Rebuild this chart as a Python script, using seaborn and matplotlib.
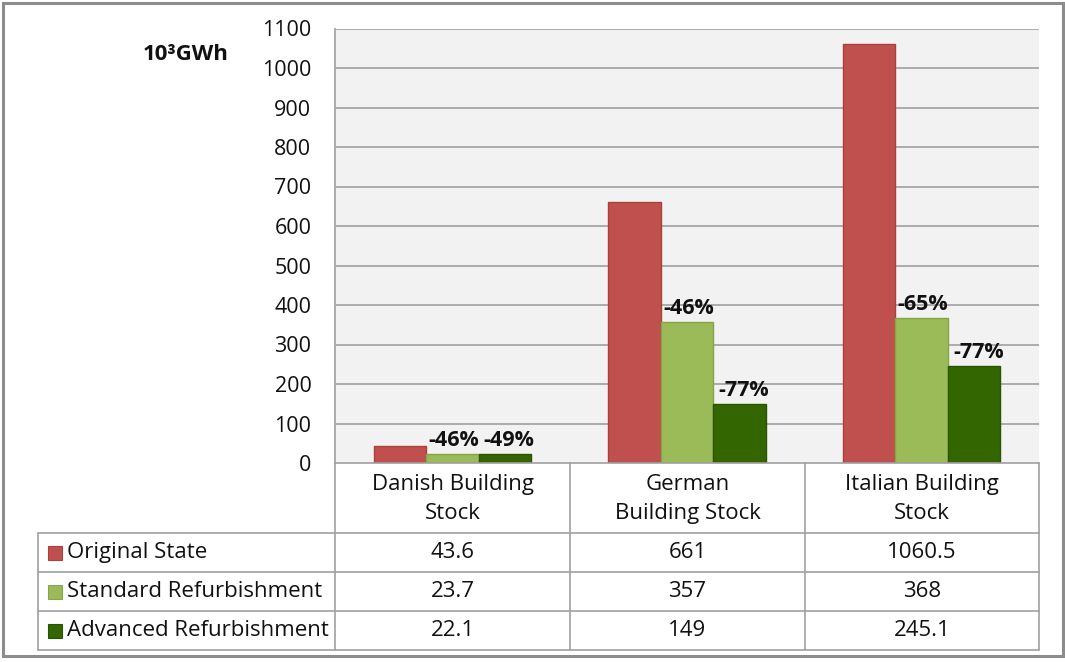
import matplotlib
matplotlib.use("Agg")
import matplotlib.pyplot as plt
from matplotlib.lines import Line2D
from matplotlib.patches import Rectangle
import seaborn as sns
import pandas as pd

categories = ["Danish Building\nStock", "German\nBuilding Stock", "Italian Building\nStock"]
series = ["Original State", "Standard Refurbishment", "Advanced Refurbishment"]
original = [43.6, 661, 1060.5]
standard = [23.7, 357, 368]
advanced = [22.1, 149, 245.1]
table_text = [["43.6", "661", "1060.5"], ["23.7", "357", "368"], ["22.1", "149", "245.1"]]
pct_standard = ["-46%", "-46%", "-65%"]
pct_advanced = ["-49%", "-77%", "-77%"]
colors = ["#C0504D", "#9BBB59", "#336600"]
edge_colors = ["#A8403D", "#86A548", "#2A5500"]
yticks = list(range(0, 1101, 100))

sns.set_theme(style="white")
plt.rcParams["font.family"] = ["Open Sans", "DejaVu Sans"]

W, H = 1065, 662
fig = plt.figure(figsize=(W / 100, H / 100), dpi=100)

def fx(px):
    return px / W

def fy(py):
    return 1 - py / H

L, R, T, B = 335, 1039, 28.5, 463
ax = fig.add_axes([fx(L), fy(B), fx(R) - fx(L), fy(T) - fy(B)])
ax.set_facecolor("#F2F2F2")

rows = []
for s, vals in zip(series, [original, standard, advanced]):
    for c, v in zip(categories, vals):
        rows.append({"cat": c, "series": s, "value": v})
df = pd.DataFrame(rows)

sns.barplot(data=df, x="cat", y="value", hue="series", order=categories,
            hue_order=series, palette=colors, width=0.67, ax=ax,
            saturation=1, legend=False, errorbar=None, zorder=3)
for cont, ec in zip(ax.containers, edge_colors):
    for bar in cont:
        bar.set_edgecolor(ec)
        bar.set_linewidth(1.0)

ax.set_ylim(0, 1100)
ax.set_xlim(-0.5, 2.5)
ax.set_yticks(yticks)
ax.set_yticklabels([str(t) for t in yticks], fontsize=15.5, color="#111111")
ax.tick_params(axis="y", length=0, pad=17)
ax.set_xticks([])
ax.set_xlabel("")
ax.set_ylabel("")
for t in yticks[1:]:
    ax.axhline(t, color="#A6A6A6", lw=1.3, zorder=1)
for sp in ["top", "right", "bottom"]:
    ax.spines[sp].set_visible(False)
ax.spines["left"].set_color("#A6A6A6")
ax.spines["left"].set_linewidth(1.3)

for j, labels in [(1, pct_standard), (2, pct_advanced)]:
    for bar, lab in zip(ax.containers[j], labels):
        ax.annotate(lab, (bar.get_x() + bar.get_width() / 2, bar.get_height()),
                    xytext=(1 + 2 * (j - 1), 2), textcoords="offset points",
                    ha="center", va="bottom", fontsize=15.5, fontweight="bold",
                    color="#111111", zorder=5)

fig.text(fx(186), fy(55), "10³GWh", fontsize=16, fontweight="bold",
         ha="center", va="center", color="#111111")

# data table
lc = "#A0A0A0"
def hline(x0, x1, y):
    fig.add_artist(Line2D([fx(x0), fx(x1)], [fy(y), fy(y)], color=lc, lw=1.2))
def vline(x, y0, y1):
    fig.add_artist(Line2D([fx(x), fx(x)], [fy(y0), fy(y1)], color=lc, lw=1.2))

cols = [335, 570, 805, 1039]
row_y = [463, 533, 572, 611, 650]
TL = 38
hline(335, 1039, 463)
for y in row_y[1:]:
    hline(TL, 1039, y)
for x in cols:
    vline(x, 463, 650)
vline(TL, 533, 650)

for i, c in enumerate(categories):
    xc = (cols[i] + cols[i + 1]) / 2
    fig.text(fx(xc), fy((463 + 533) / 2 + 1), c, ha="center", va="center",
             fontsize=16, color="#111111", linespacing=1.55)

for r, s in enumerate(series):
    yc = (row_y[r + 1] + row_y[r + 2]) / 2
    fig.add_artist(Rectangle((fx(48), fy(yc + 7)), fx(14), fy(0) - fy(14),
                             facecolor=colors[r], edgecolor=edge_colors[r],
                             lw=0.8, transform=fig.transFigure))
    fig.text(fx(67), fy(yc), s, ha="left", va="center", fontsize=16,
             color="#111111")
    for i in range(3):
        xc = (cols[i] + cols[i + 1]) / 2
        fig.text(fx(xc), fy(yc), table_text[r][i], ha="center", va="center",
                 fontsize=16, color="#111111")

# outer frame
fig.add_artist(Rectangle((fx(2.5), fy(656)), fx(1060), fy(0) - fy(653.5),
                         facecolor="none", edgecolor="#8C8C8C", lw=2.2,
                         transform=fig.transFigure))

fig.savefig("out.png", dpi=100, facecolor="white")
